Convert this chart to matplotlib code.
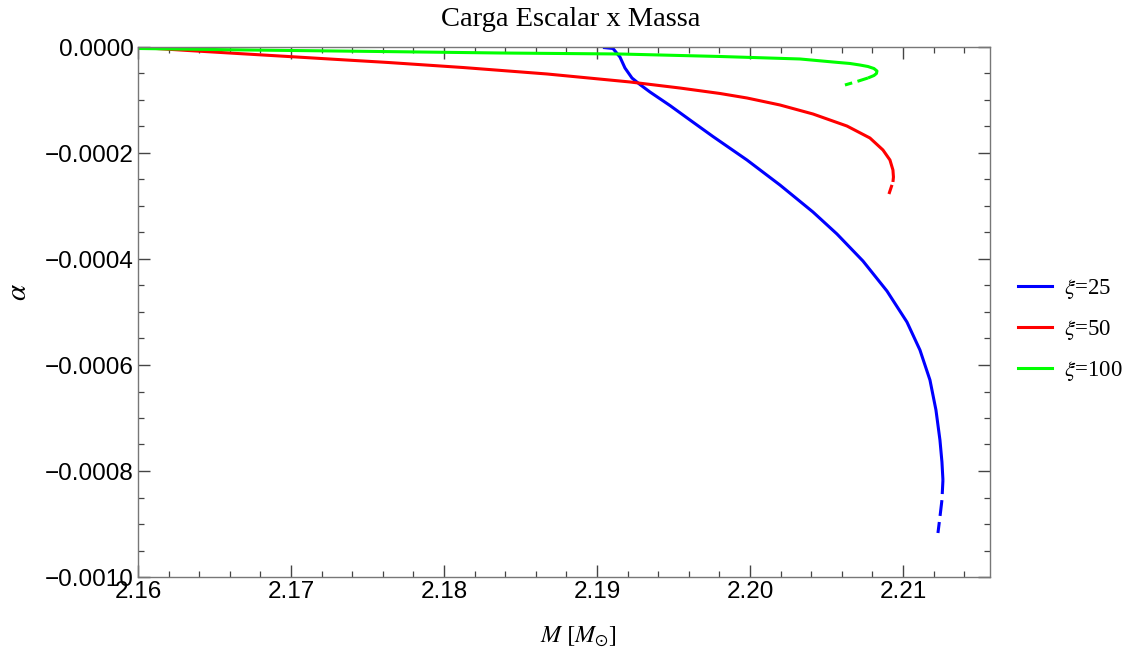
import matplotlib
matplotlib.use("Agg")
import matplotlib.pyplot as plt
from matplotlib.ticker import MultipleLocator, FuncFormatter
from matplotlib.lines import Line2D

# xi = 25 (blue)
m25 = [2.190392, 2.191046, 2.191503, 2.191830, 2.192288, 2.192810, 2.193464, 2.194771,
       2.196078, 2.197582, 2.199804, 2.201961, 2.204118, 2.205686, 2.207386, 2.208954,
       2.210261, 2.211111, 2.211765, 2.212157, 2.212418, 2.212549, 2.212614]
a25 = [-0.0000009, -0.0000028, -0.0000189, -0.0000396, -0.0000585, -0.0000708, -0.0000849, -0.0001104,
       -0.0001377, -0.0001689, -0.0002132, -0.0002604, -0.0003113, -0.0003528, -0.0004038, -0.0004604,
       -0.0005189, -0.0005717, -0.0006283, -0.0006849, -0.0007415, -0.0007830, -0.0008170]
m25_d = [2.212614, 2.212549, 2.212418, 2.212288]
a25_d = [-0.0008170, -0.0008547, -0.0008868, -0.0009170]

# xi = 50 (red)
m50 = [2.160000, 2.163268, 2.166536, 2.169804, 2.173072, 2.176340, 2.181242, 2.186732,
       2.192157, 2.195425, 2.198039, 2.199804, 2.201961, 2.204118, 2.206340, 2.207843,
       2.208693, 2.209150, 2.209346, 2.209379, 2.209346]
a50 = [-0.0000006, -0.0000066, -0.0000123, -0.0000179, -0.0000236, -0.0000292, -0.0000387, -0.0000509,
       -0.0000660, -0.0000774, -0.0000877, -0.0000962, -0.0001094, -0.0001264, -0.0001491, -0.0001717,
       -0.0001943, -0.0002132, -0.0002321, -0.0002453, -0.0002547]
m50_d = [2.209346, 2.209216, 2.209085]
a50_d = [-0.0002547, -0.0002660, -0.0002774]

# xi = 100 (green)
m100 = [2.160000, 2.167320, 2.175817, 2.183660, 2.191503, 2.198039, 2.203268, 2.205425,
        2.206536, 2.207190, 2.207712, 2.208105, 2.208301, 2.208268, 2.208105, 2.207712]
a100 = [-0.0000028, -0.0000057, -0.0000085, -0.0000113, -0.0000132, -0.0000179, -0.0000226, -0.0000283,
        -0.0000311, -0.0000340, -0.0000368, -0.0000406, -0.0000453, -0.0000500, -0.0000538, -0.0000585]
m100_d = [2.207712, 2.206993, 2.206209]
a100_d = [-0.0000585, -0.0000651, -0.0000717]

labels = [r"$\xi$=25", r"$\xi$=50", r"$\xi$=100"]
colors = ["#0000ff", "#ff0000", "#00ff00"]

plt.rcParams['mathtext.fontset'] = 'stix'

fig = plt.figure(figsize=(11.26, 6.6), dpi=100)
ax = fig.add_axes([138/1126, 1-577/660, (990-138)/1126, (577-47)/660])

lw = 2.2
ax.plot(m25, a25, color=colors[0], lw=lw, solid_capstyle='butt', solid_joinstyle='round')
ax.plot(m25_d, a25_d, color=colors[0], lw=lw, ls=(0.6, (5.2, 2.0)))
ax.plot(m50, a50, color=colors[1], lw=lw, solid_capstyle='butt', solid_joinstyle='round')
ax.plot(m50_d, a50_d, color=colors[1], lw=lw, ls=(4.6, (4.0, 1.6)))
ax.plot(m100, a100, color=colors[2], lw=lw, solid_capstyle='butt', solid_joinstyle='round')
ax.plot(m100_d, a100_d, color=colors[2], lw=lw, ls=(0.8, (4.4, 1.8)))

ax.set_xlim(2.16, 2.21569)
ax.set_ylim(-0.001, 0.0)

ax.xaxis.set_major_locator(MultipleLocator(0.01))
ax.xaxis.set_minor_locator(MultipleLocator(0.002))
ax.yaxis.set_major_locator(MultipleLocator(0.0002))
ax.yaxis.set_minor_locator(MultipleLocator(0.00005))
ax.xaxis.set_major_formatter(FuncFormatter(lambda v, p: f"{v:.2f}"))
ax.yaxis.set_major_formatter(FuncFormatter(lambda v, p: (f"{v:.4f}" if abs(v) > 1e-12 else "0.0000").replace("-", "\u2212")))

ax.tick_params(which='both', direction='in', top=True, right=True, color='#444444')
ax.tick_params(which='major', length=8.5, width=1.0, labelsize=17.5, pad=3)
ax.tick_params(which='minor', length=4.5, width=0.9)
for lab in ax.get_xticklabels() + ax.get_yticklabels():
    lab.set_fontfamily('Liberation Sans')
for s in ax.spines.values():
    s.set_color('#777777')
    s.set_linewidth(1.0)

fig.text(571/1126, 1-20/660, "Carga Escalar x Massa", fontfamily='Liberation Serif',
         fontsize=20.5, ha='center', va='center')
ax.set_xlabel(r"$M\ [M_{\odot}]$", fontsize=17.5)
ax.xaxis.set_label_coords((578-138)/852, (577-637)/530)
ax.xaxis.label.set_va('center')
ax.set_ylabel(r"$\alpha$", fontsize=21)
ax.yaxis.set_label_coords((18-138)/852, (577-292)/530)
ax.yaxis.label.set_va('center')

handles = [Line2D([0], [0], color=c, lw=lw) for c in colors]
leg = fig.legend(handles, labels, loc='center left', bbox_to_anchor=(1018/1126, 1-330/660),
                 frameon=False, handlelength=1.5, handletextpad=0.5,
                 labelspacing=0.75, borderpad=0, borderaxespad=0,
                 prop={'family': 'Liberation Serif', 'size': 16.5})

fig.savefig("out.png", dpi=100)
